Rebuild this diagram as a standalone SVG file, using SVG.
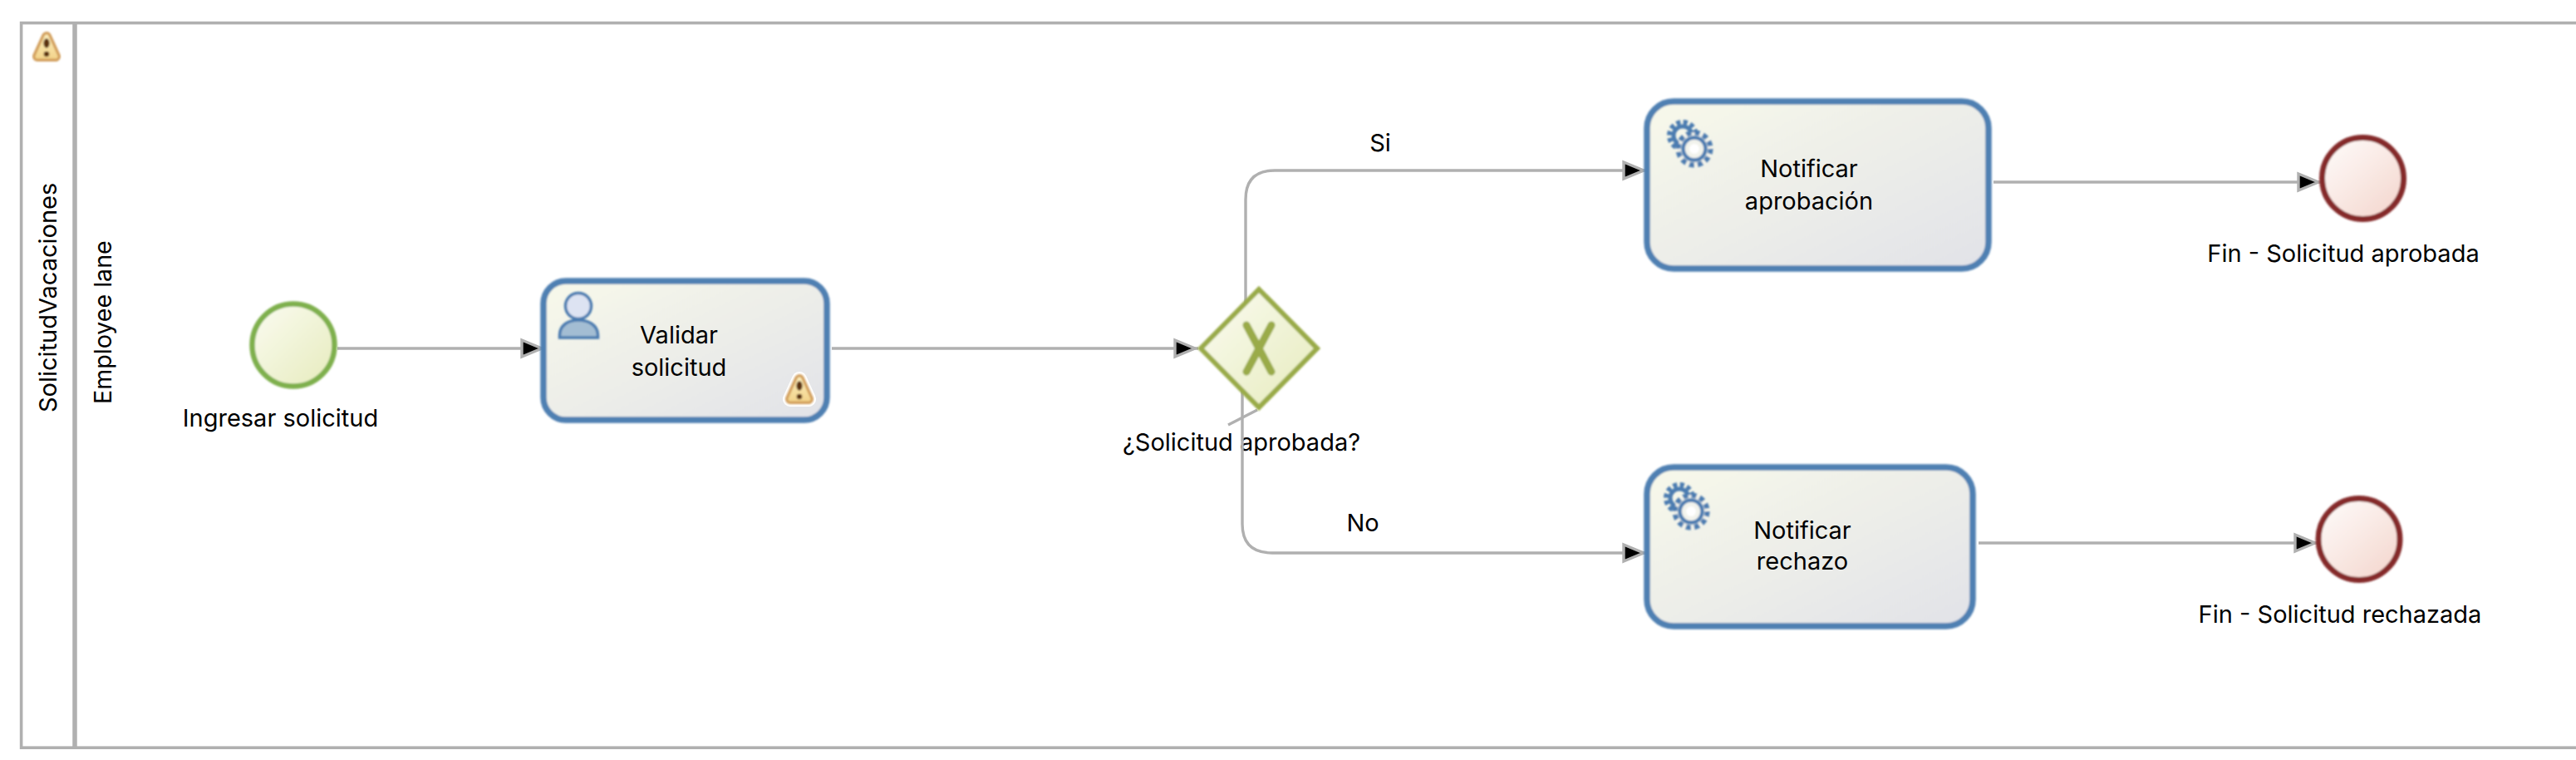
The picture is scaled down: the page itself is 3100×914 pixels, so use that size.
<svg xmlns="http://www.w3.org/2000/svg" xmlns:xlink="http://www.w3.org/1999/xlink" width="3100" height="914" viewBox="0 0 3100 914">
<style>
text{font-family:"Inter","Liberation Sans",sans-serif;font-size:29px;fill:#000}
.mid{text-anchor:middle}
.lane{fill:none;stroke:#b0b0b0}
.flow{fill:none;stroke:#b0b0b0;stroke-width:3.4;marker-end:url(#arrow)}
.task{fill:url(#gTask);stroke:#5080b2;stroke-width:7.5;filter:url(#soft)}
.ev-start{fill:url(#gGreen);stroke:#7fb04e;stroke-width:6.5;filter:url(#soft)}
.ev-end{fill:url(#gRed);stroke:#852c2c;stroke-width:7;filter:url(#soft)}
.soft{filter:url(#soft)}
</style>
<defs>
<filter id="soft" x="-30%" y="-30%" width="160%" height="160%"><feGaussianBlur stdDeviation="0.8"/></filter>
<linearGradient id="gTask" x1="0" y1="0" x2="1" y2="1"><stop offset="0" stop-color="#f8f9ea"/><stop offset="1" stop-color="#e1e2e8"/></linearGradient>
<linearGradient id="gGreen" x1="0.1" y1="0.1" x2="0.9" y2="0.9"><stop offset="0" stop-color="#f9faec"/><stop offset="1" stop-color="#e8edc2"/></linearGradient>
<linearGradient id="gRed" x1="0.15" y1="0.1" x2="0.85" y2="0.9"><stop offset="0" stop-color="#fdf8f6"/><stop offset="1" stop-color="#f5d9d1"/></linearGradient>
<linearGradient id="gWarn" gradientUnits="userSpaceOnUse" x1="0" y1="-16" x2="0" y2="16"><stop offset="0" stop-color="#fcf0c0"/><stop offset="1" stop-color="#f2d288"/></linearGradient>
<marker id="arrow" markerUnits="userSpaceOnUse" markerWidth="36" markerHeight="30" viewBox="-34 -15 36 30" refX="0" refY="0" orient="auto">
<polygon points="-28,-10 -4,0 -28,10" fill="#000" stroke="#b0b0b0" stroke-width="3.4"/>
</marker>
<g id="warn">
<polygon points="0,-12 11,12 -11,12" fill="#d3a05e" stroke="#d3a05e" stroke-width="12" stroke-linejoin="round"/>
<polygon points="0,-12 11,12 -11,12" fill="url(#gWarn)" stroke="url(#gWarn)" stroke-width="5" stroke-linejoin="round"/>
<ellipse cx="0" cy="-4" rx="3.6" ry="5.8" fill="#5c3310"/>
<circle cx="0" cy="9" r="3.3" fill="#5c3310"/>
</g>
<g id="gear" fill="none" stroke="#4b7cb0">
<circle cx="-14" cy="-16" r="11" stroke-width="5"/>
<circle cx="-14" cy="-16" r="16" stroke-width="6" stroke-dasharray="5 3.4"/>
<circle cx="0" cy="0" r="20" fill="#f2f3ec" stroke="none"/>
<circle cx="0" cy="0" r="13.5" stroke-width="4.5"/>
<circle cx="0" cy="0" r="19.5" stroke-width="6" stroke-dasharray="6 4.2"/>
<circle cx="0" cy="0" r="6" fill="#fff" stroke="none"/>
</g>
</defs>
<rect width="3100" height="914" fill="#fff"/>

<g id="pool">
<rect class="lane" x="25.6" y="27.6" width="3090" height="871.6" stroke-width="3.6"/>
<line class="lane" x1="90" y1="27" x2="90" y2="900" stroke-width="5.5"/>
<use class="soft" xlink:href="#warn" href="#warn" x="56" y="56"/>
<text transform="translate(68,496) rotate(-90)" style="font-size:29px">SolicitudVacaciones</text>
<text transform="translate(134,486) rotate(-90)" style="font-size:28.6px">Employee lane</text>
</g>

<g id="label-gateway"><text class="mid" x="1494" y="542">¿Solicitud aprobada?</text></g>

<g id="connectors">
<path class="flow" d="M406 419H656"/>
<path class="flow" d="M1001 419H1442"/>
<path class="flow" d="M1499 400V240Q1499 205 1534 205H1982"/>
<path class="flow" d="M1495 440V630Q1495 665 1531 665H1982"/>
<path class="flow" d="M2399 219H2794"/>
<path class="flow" d="M2381 653H2790"/>
<line x1="1513" y1="493" x2="1478" y2="511" stroke="#b0b0b0" stroke-width="3.4"/>
<text class="mid" x="1661" y="182">Si</text>
<text class="mid" x="1640" y="639">No</text>
</g>

<g id="start">
<circle class="ev-start" cx="353" cy="415" r="49.5"/>
<text class="mid" x="337.5" y="513">Ingresar solicitud</text>
</g>

<g id="validar">
<rect class="task" x="654" y="338" width="341" height="167" rx="27"/>
<g class="soft">
<circle cx="696" cy="368" r="15.5" fill="#dde3f2" stroke="#4b7cb0" stroke-width="3.5"/>
<path d="M673.5 406V403C673.5 391 684 385 696 385S719.5 391 719.5 403V406Z" fill="#a3bdd3" stroke="#4b7cb0" stroke-width="3.5"/>
</g>
<text class="mid" x="817" y="413">Validar</text>
<text class="mid" x="817" y="452">solicitud</text>
<polygon points="962,456 973,480 951,480" fill="#fff" stroke="#fff" stroke-width="18" stroke-linejoin="round"/>
<use class="soft" xlink:href="#warn" href="#warn" x="962" y="468"/>
</g>

<g id="gateway" class="soft">
<polygon points="1515,348 1585,419 1515,490 1445,419" fill="url(#gGreen)" stroke="#9aab49" stroke-width="6"/>
<path d="M1500 391L1530 447M1530 391L1500 447" fill="none" stroke="#9aab49" stroke-width="9" stroke-linecap="round"/>
</g>

<g id="notificar-aprobacion">
<rect class="task" x="1982" y="122" width="411" height="201" rx="32"/>
<use class="soft" xlink:href="#gear" href="#gear" x="2039" y="179"/>
<text class="mid" x="2177" y="213">Notificar</text>
<text class="mid" x="2177" y="252">aprobación</text>
</g>

<g id="notificar-rechazo">
<rect class="task" x="1982" y="562" width="392" height="191" rx="32"/>
<use class="soft" xlink:href="#gear" href="#gear" x="2035" y="615"/>
<text class="mid" x="2169" y="648">Notificar</text>
<text class="mid" x="2169" y="685">rechazo</text>
</g>

<g id="fin-aprobada">
<circle class="ev-end" cx="2843.5" cy="214.5" r="49"/>
<text class="mid" x="2820" y="315">Fin - Solicitud aprobada</text>
</g>

<g id="fin-rechazada">
<circle class="ev-end" cx="2839" cy="648.5" r="49"/>
<text class="mid" x="2816" y="749">Fin - Solicitud rechazada</text>
</g>
</svg>
